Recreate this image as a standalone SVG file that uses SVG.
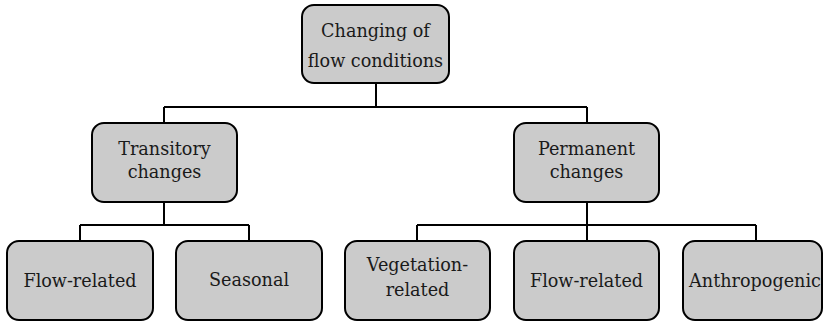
<svg xmlns="http://www.w3.org/2000/svg" width="823" height="322" viewBox="0 0 823 322">
<style>
.box{fill:#cbcbcb;stroke:#000;stroke-width:2}
.lbl{font-family:"DejaVu Serif","Liberation Serif",serif;font-size:17.6px;fill:#1a1a1a;text-anchor:middle}
.conn{fill:none;stroke:#000;stroke-width:2}
</style>
<rect width="823" height="322" fill="#fff"/>
<g id="connectors">
<path class="conn" d="M376,83 V107 M164,107 H587 M164,107 V123 M587,107 V123"/>
<path class="conn" d="M164,202 V225 M80,225 H249 M80,225 V241 M249,225 V241"/>
<path class="conn" d="M587,202 V225 M417,225 H756 M417,225 V241 M587,225 V241 M756,225 V241"/>
</g>
<g id="root">
<rect class="box" x="302" y="5" width="147" height="78" rx="12"/>
<text class="lbl" x="375.5" y="37">Changing of</text>
<text class="lbl" x="375.5" y="67">flow conditions</text>
</g>
<g id="transitory">
<rect class="box" x="92" y="123" width="145" height="79" rx="12"/>
<text class="lbl" x="164.5" y="155">Transitory</text>
<text class="lbl" x="164.5" y="178">changes</text>
</g>
<g id="permanent">
<rect class="box" x="514" y="123" width="145" height="79" rx="12"/>
<text class="lbl" x="586.5" y="155">Permanent</text>
<text class="lbl" x="586.5" y="178">changes</text>
</g>
<g id="flow1">
<rect class="box" x="7" y="241" width="146" height="79" rx="12"/>
<text class="lbl" x="80" y="287">Flow-related</text>
</g>
<g id="seasonal">
<rect class="box" x="176" y="241" width="146" height="79" rx="12"/>
<text class="lbl" x="249" y="286">Seasonal</text>
</g>
<g id="vegetation">
<rect class="box" x="345" y="241" width="145" height="79" rx="12"/>
<text class="lbl" x="417.5" y="271">Vegetation-</text>
<text class="lbl" x="417.5" y="296">related</text>
</g>
<g id="flow2">
<rect class="box" x="514" y="241" width="145" height="79" rx="12"/>
<text class="lbl" x="586.5" y="287">Flow-related</text>
</g>
<g id="anthropogenic">
<rect class="box" x="683" y="241" width="139" height="79" rx="12"/>
<text class="lbl" x="755" y="287">Anthropogenic</text>
</g>
</svg>
